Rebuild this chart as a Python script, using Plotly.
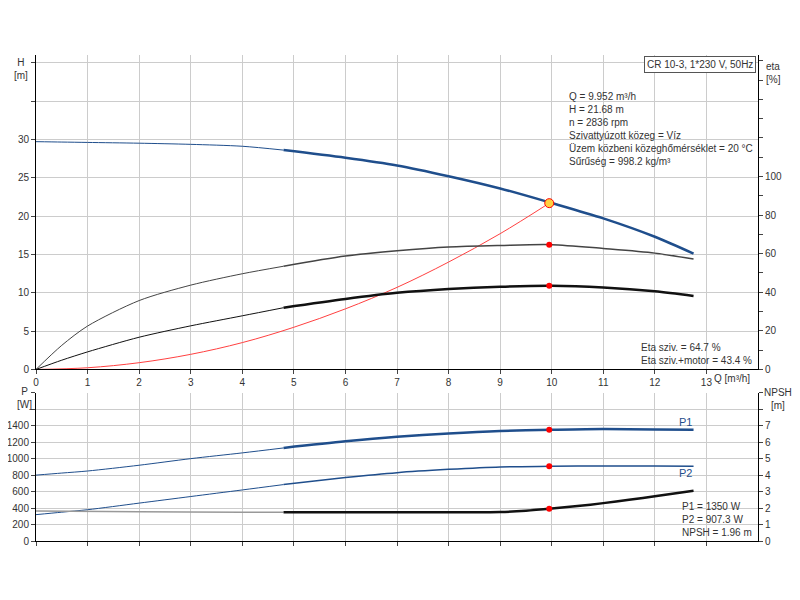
import plotly.graph_objects as go

Q = [0, 0.5, 1, 2, 3, 4, 4.8, 6, 7, 8, 9, 10, 11, 12, 12.75]
H = [29.7, 29.65, 29.6, 29.5, 29.35, 29.1, 28.6, 27.6, 26.6, 25.2, 23.6, 21.7, 19.7, 17.3, 15.1]
ETA_P = [0, 12.5, 22.5, 35.7, 43.7, 49.6, 53.5, 58.8, 61.5, 63.5, 64.3, 64.7, 62.7, 60.3, 57.2]
ETA_PM = [0, 4.8, 9.1, 16.7, 22.6, 27.8, 32.0, 36.5, 39.7, 41.7, 42.9, 43.4, 42.5, 40.5, 38.1]
P1 = [800, 825, 850, 920, 1000, 1070, 1130, 1210, 1265, 1305, 1335, 1350, 1360, 1355, 1350]
P2 = [320, 350, 380, 460, 540, 620, 685, 770, 830, 870, 900, 907, 912, 910, 908]
QN = [0, 2, 4, 4.8, 6, 8, 9, 9.5, 10, 10.5, 11, 11.5, 12, 12.75]
NPSH = [1.82, 1.78, 1.75, 1.74, 1.74, 1.74, 1.76, 1.84, 1.97, 2.12, 2.3, 2.5, 2.72, 3.05]
QS = [0, 1, 2, 3, 4, 5, 6, 7, 8, 9, 9.952]
HS = [0, 0.22, 0.88, 1.97, 3.5, 5.5, 7.9, 10.7, 14.0, 17.7, 21.68]

BLUE = "#1f4e8c"
FONT = "Liberation Sans"
fig = go.Figure()

def seg(x, y, xa, ya, color, w1, w2, start, color2=None):
    fig.add_trace(go.Scatter(x=x[:start+1], y=y[:start+1], mode="lines", line=dict(color=color, width=w1, shape="spline", smoothing=0.8), xaxis=xa, yaxis=ya, showlegend=False))
    fig.add_trace(go.Scatter(x=x[start:], y=y[start:], mode="lines", line=dict(color=color2 or color, width=w2, shape="spline", smoothing=0.8), xaxis=xa, yaxis=ya, showlegend=False))

seg(Q, H, "x", "y", BLUE, 1, 2.5, 6)
seg(Q, ETA_P, "x", "y2", "#444444", 1, 1.5, 6)
seg(Q, ETA_PM, "x", "y2", "#111111", 1, 2.5, 6)
fig.add_trace(go.Scatter(x=QS, y=HS, mode="lines", line=dict(color="#ff4040", width=1, shape="spline"), xaxis="x", yaxis="y", showlegend=False))
seg(Q, P1, "x2", "y3", BLUE, 1, 2.5, 6)
seg(Q, P2, "x2", "y3", BLUE, 1, 1.5, 6)
seg(QN, NPSH, "x2", "y4", "#999999", 1.5, 2.5, 3, color2="#111111")
fig.add_trace(go.Scatter(x=[9.952], y=[21.68], mode="markers", marker=dict(color="#ffd040", size=9, line=dict(color="red", width=1)), xaxis="x", yaxis="y", showlegend=False))
fig.add_trace(go.Scatter(x=[9.952, 9.952], y=[64.7, 43.4], mode="markers", marker=dict(color="red", size=6), xaxis="x", yaxis="y2", showlegend=False))
fig.add_trace(go.Scatter(x=[9.952, 9.952], y=[1350, 907.3], mode="markers", marker=dict(color="red", size=6), xaxis="x2", yaxis="y3", showlegend=False))
fig.add_trace(go.Scatter(x=[9.952], y=[1.96], mode="markers", marker=dict(color="red", size=6), xaxis="x2", yaxis="y4", showlegend=False))

ax = dict(showgrid=True, gridcolor="#cccccc", gridwidth=1, linecolor="black", showline=True, ticks="outside", ticklen=4,
          tickfont=dict(family=FONT, size=10, color="#333"), zeroline=False, range=[0, 14], automargin=False)
fig.update_layout(
    width=800, height=600, plot_bgcolor="white", paper_bgcolor="white",
    margin=dict(l=28, r=50, t=47, b=67),
    font=dict(family=FONT, size=10, color="#333"),
    xaxis=dict(ax, domain=[0, 1], anchor="y", tickvals=list(range(0, 14))),
    xaxis2=dict(ax, domain=[0, 1], anchor="y3", tickvals=list(range(0, 14)), showticklabels=False),
    yaxis=dict(ax, domain=[0.353, 1], range=[0, 41], tickvals=[0, 5, 10, 15, 20, 25, 30, 35, 40],
               ticktext=["0", "5", "10", "15", "20", "25", "30", "", ""]),
    yaxis2=dict(ax, overlaying="y", side="right", range=[0, 163], showgrid=False,
                tickvals=[0, 10, 20, 30, 40, 50, 60, 70, 80, 90, 100, 110, 120, 130, 140, 150, 160],
                ticktext=["0", "", "20", "", "40", "", "60", "", "80", "", "100", "", "", "", "", "", ""]),
    yaxis3=dict(ax, domain=[0, 0.305], range=[0, 1800], tickvals=list(range(0, 1801, 200)),
                ticktext=["0", "200", "400", "600", "800", "1000", "1200", "1400", "", ""]),
    yaxis4=dict(ax, overlaying="y3", side="right", range=[0, 9], showgrid=False, anchor="x2",
                tickvals=list(range(0, 10)), ticktext=["0", "1", "2", "3", "4", "5", "6", "7", "", ""]),
)

ann = [
    dict(x=0.0, y=1.0, xref="paper", yref="paper", text="H<br>[m]", xanchor="right", yanchor="top", xshift=-6, align="center"),
    dict(x=1.0, y=1.0, xref="paper", yref="paper", text="eta<br>[%]", xanchor="left", yanchor="top", xshift=6, yshift=-4, align="left"),
    dict(x=13.1, y=0.353, xref="x", yref="paper", text="Q [m³/h]", xanchor="left", yanchor="top", yshift=-2),
    dict(x=0.0, y=1740, xref="paper", yref="y3", text="P<br>[W]", xanchor="right", yanchor="middle", xshift=-2, align="center"),
    dict(x=1.0, y=8.6, xref="paper", yref="y4", text="NPSH<br>[m]", xanchor="left", yanchor="middle", xshift=4, align="center"),
    dict(x=0.997, y=0.997, xref="paper", yref="paper", text="CR 10-3, 1*230 V, 50Hz", xanchor="right", yanchor="top",
         bordercolor="#555", borderwidth=1, bgcolor="white", borderpad=2),
    dict(x=10.3, y=0.93, xref="x", yref="paper", xanchor="left", yanchor="top", align="left",
         text="Q = 9.952 m³/h<br>H = 21.68 m<br>n = 2836 rpm<br>Szivattyúzott közeg = Víz<br>Üzem közbeni közeghőmérséklet = 20 °C<br>Sűrűség = 998.2 kg/m³"),
    dict(x=0.995, y=0.356, xref="paper", yref="paper", xanchor="right", yanchor="bottom", align="left",
         text="Eta sziv. = 64.7 %<br>Eta sziv.+motor = 43.4 %"),
    dict(x=0.995, y=0.003, xref="paper", yref="paper", xanchor="right", yanchor="bottom", align="left",
         text="P1 = 1350 W<br>P2 = 907.3 W<br>NPSH = 1.96 m"),
    dict(x=12.6, y=1440, xref="x2", yref="y3", text="P1", font=dict(color=BLUE, size=11)),
    dict(x=12.6, y=820, xref="x2", yref="y3", text="P2", font=dict(color=BLUE, size=11)),
]
for a in ann:
    a["showarrow"] = False
    fig.add_annotation(**a)

fig.write_html("out.html")
